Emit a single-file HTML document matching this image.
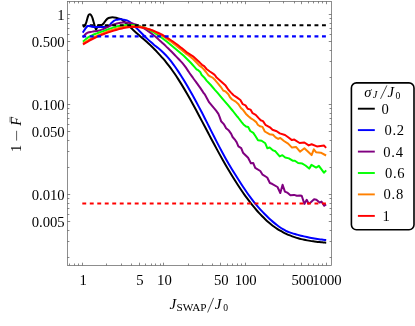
<!DOCTYPE html>
<html><head><meta charset="utf-8"><title>plot</title>
<style>
html,body{margin:0;padding:0;background:#fff;}
body{width:415px;height:326px;overflow:hidden;font-family:"Liberation Serif",serif;}
svg{display:block;will-change:transform;}
text{font-family:"Liberation Serif",serif;fill:#000;}
</style></head><body>
<svg width="415" height="326" viewBox="0 0 415 326">
<rect width="415" height="326" fill="#fff"/>
<g fill="none" stroke-width="2" stroke-linejoin="round" stroke-linecap="butt">
<path d="M83.20 27.20 C83.42 26.97 84.10 26.33 84.50 25.80 C84.90 25.27 85.28 24.63 85.60 24.00 C85.92 23.37 86.13 22.83 86.40 22.00 C86.67 21.17 86.93 19.95 87.20 19.00 C87.47 18.05 87.72 17.02 88.00 16.30 C88.28 15.58 88.58 15.05 88.90 14.70 C89.22 14.35 89.57 14.18 89.90 14.20 C90.23 14.22 90.58 14.45 90.90 14.80 C91.22 15.15 91.52 15.70 91.80 16.30 C92.08 16.90 92.33 17.58 92.60 18.40 C92.87 19.22 93.13 20.27 93.40 21.20 C93.67 22.13 93.95 23.13 94.20 24.00 C94.45 24.87 94.67 25.63 94.90 26.40 C95.13 27.17 95.40 28.07 95.60 28.60 C95.80 29.13 95.90 29.67 96.10 29.60 C96.30 29.53 96.55 28.77 96.80 28.20 C97.05 27.63 97.27 26.68 97.60 26.20 C97.93 25.72 98.33 25.48 98.80 25.30 C99.27 25.12 99.87 25.18 100.40 25.10 C100.93 25.02 101.48 25.07 102.00 24.80 C102.52 24.53 103.02 24.03 103.50 23.50 C103.98 22.97 104.42 22.23 104.90 21.60 C105.38 20.97 105.90 20.23 106.40 19.70 C106.90 19.17 107.38 18.73 107.90 18.40 C108.42 18.07 108.75 17.90 109.50 17.70 C110.25 17.50 111.30 17.20 112.40 17.20 C113.50 17.20 115.10 17.48 116.10 17.70 C117.10 17.92 117.55 18.25 118.40 18.50 C119.25 18.75 120.23 18.68 121.20 19.22 C122.17 19.75 123.20 20.85 124.20 21.71 C125.20 22.56 126.20 23.46 127.20 24.36 C128.20 25.26 129.20 26.19 130.20 27.12 C131.20 28.04 132.20 28.98 133.20 29.90 C134.20 30.83 135.20 31.75 136.20 32.66 C137.20 33.56 138.20 34.45 139.20 35.34 C140.20 36.22 141.20 37.09 142.20 37.97 C143.20 38.85 144.20 39.72 145.20 40.61 C146.20 41.50 147.20 42.39 148.20 43.30 C149.20 44.22 150.20 45.14 151.20 46.09 C152.20 47.04 153.20 48.01 154.20 49.01 C155.20 50.01 156.20 51.03 157.20 52.08 C158.20 53.13 159.20 54.20 160.20 55.31 C161.20 56.41 162.20 57.55 163.20 58.72 C164.20 59.89 165.20 61.09 166.20 62.33 C167.20 63.57 168.20 64.84 169.20 66.16 C170.20 67.47 171.20 68.82 172.20 70.22 C173.20 71.61 174.20 73.05 175.20 74.53 C176.20 76.01 177.20 77.53 178.20 79.09 C179.20 80.65 180.20 82.25 181.20 83.88 C182.20 85.51 183.20 87.18 184.20 88.87 C185.20 90.56 186.20 92.29 187.20 94.03 C188.20 95.78 189.20 97.56 190.20 99.35 C191.20 101.14 192.20 102.96 193.20 104.79 C194.20 106.62 195.20 108.47 196.20 110.33 C197.20 112.19 198.20 114.07 199.20 115.95 C200.20 117.84 201.20 119.73 202.20 121.63 C203.20 123.52 204.20 125.42 205.20 127.32 C206.20 129.23 207.20 131.13 208.20 133.03 C209.20 134.92 210.20 136.82 211.20 138.71 C212.20 140.59 213.20 142.47 214.20 144.34 C215.20 146.20 216.20 148.06 217.20 149.90 C218.20 151.74 219.20 153.56 220.20 155.36 C221.20 157.17 222.20 158.95 223.20 160.72 C224.20 162.48 225.20 164.22 226.20 165.95 C227.20 167.67 228.20 169.37 229.20 171.05 C230.20 172.73 231.20 174.38 232.20 176.01 C233.20 177.64 234.20 179.25 235.20 180.83 C236.20 182.41 237.20 183.96 238.20 185.49 C239.20 187.02 240.20 188.52 241.20 189.99 C242.20 191.46 243.20 192.90 244.20 194.32 C245.20 195.73 246.20 197.11 247.20 198.46 C248.20 199.81 249.20 201.13 250.20 202.42 C251.20 203.70 252.20 204.96 253.20 206.18 C254.20 207.40 255.20 208.59 256.20 209.75 C257.20 210.90 258.20 212.02 259.20 213.11 C260.20 214.20 261.20 215.25 262.20 216.27 C263.20 217.28 264.20 218.27 265.20 219.21 C266.20 220.16 267.20 221.07 268.20 221.94 C269.20 222.81 270.20 223.65 271.20 224.45 C272.20 225.24 273.20 226.00 274.20 226.73 C275.20 227.46 276.20 228.14 277.20 228.80 C278.20 229.46 279.20 230.08 280.20 230.67 C281.20 231.26 282.20 231.82 283.20 232.35 C284.20 232.88 285.20 233.37 286.20 233.85 C287.20 234.32 288.20 234.76 289.20 235.18 C290.20 235.60 291.20 235.99 292.20 236.36 C293.20 236.73 294.20 237.08 295.20 237.40 C296.20 237.73 297.20 238.03 298.20 238.31 C299.20 238.59 300.20 238.85 301.20 239.10 C302.20 239.35 303.20 239.57 304.20 239.78 C305.20 240.00 306.20 240.19 307.20 240.38 C308.20 240.56 309.20 240.73 310.20 240.88 C311.20 241.04 312.20 241.18 313.20 241.32 C314.20 241.46 315.20 241.58 316.20 241.70 C317.20 241.82 318.20 241.93 319.20 242.03 C320.20 242.14 321.20 242.23 322.20 242.33 C323.20 242.42 324.53 242.54 325.20 242.60 C325.87 242.66 326.03 242.68 326.20 242.69" stroke="#000"/><path d="M82.70 32.60 C82.88 32.33 83.38 31.62 83.80 31.00 C84.22 30.38 84.77 29.55 85.20 28.90 C85.63 28.25 86.03 27.57 86.40 27.10 C86.77 26.63 87.03 26.30 87.40 26.10 C87.77 25.90 88.00 25.88 88.60 25.90 C89.20 25.92 90.03 26.03 91.00 26.20 C91.97 26.37 92.90 26.77 94.40 26.90 C95.90 27.03 98.40 26.98 100.00 27.00 C101.60 27.02 102.92 27.03 104.00 27.00 C105.08 26.97 105.83 26.90 106.50 26.80 C107.17 26.70 107.55 26.60 108.00 26.40 C108.45 26.20 108.80 25.95 109.20 25.60 C109.60 25.25 110.02 24.73 110.40 24.30 C110.78 23.87 111.10 23.42 111.50 23.00 C111.90 22.58 112.35 22.18 112.80 21.80 C113.25 21.42 113.65 21.02 114.20 20.70 C114.75 20.38 115.40 20.12 116.10 19.90 C116.80 19.68 117.55 19.50 118.40 19.40 C119.25 19.30 120.28 19.23 121.20 19.30 C122.12 19.37 122.95 19.62 123.90 19.80 C124.85 19.98 125.90 20.00 126.90 20.37 C127.90 20.74 128.90 21.33 129.90 22.02 C130.90 22.71 131.90 23.59 132.90 24.50 C133.90 25.40 134.90 26.43 135.90 27.43 C136.90 28.43 137.90 29.48 138.90 30.49 C139.90 31.51 140.90 32.52 141.90 33.52 C142.90 34.52 143.90 35.52 144.90 36.49 C145.90 37.47 146.90 38.43 147.90 39.37 C148.90 40.30 149.90 41.22 150.90 42.11 C151.90 43.00 152.90 43.86 153.90 44.69 C154.90 45.53 155.90 46.31 156.90 47.12 C157.90 47.93 158.90 48.71 159.90 49.56 C160.90 50.40 161.90 51.25 162.90 52.19 C163.90 53.13 164.90 54.13 165.90 55.20 C166.90 56.27 167.90 57.41 168.90 58.61 C169.90 59.81 170.90 61.08 171.90 62.40 C172.90 63.72 173.90 65.10 174.90 66.51 C175.90 67.93 176.90 69.40 177.90 70.90 C178.90 72.40 179.90 73.95 180.90 75.52 C181.90 77.09 182.90 78.70 183.90 80.33 C184.90 81.97 185.90 83.63 186.90 85.33 C187.90 87.02 188.90 88.75 189.90 90.49 C190.90 92.24 191.90 94.02 192.90 95.82 C193.90 97.61 194.90 99.44 195.90 101.28 C196.90 103.12 197.90 104.98 198.90 106.87 C199.90 108.75 200.90 110.65 201.90 112.58 C202.90 114.50 203.90 116.46 204.90 118.43 C205.90 120.39 206.90 122.40 207.90 124.38 C208.90 126.36 209.90 128.36 210.90 130.33 C211.90 132.31 212.90 134.29 213.90 136.25 C214.90 138.21 215.90 140.17 216.90 142.11 C217.90 144.05 218.90 145.98 219.90 147.89 C220.90 149.80 221.90 151.71 222.90 153.57 C223.90 155.42 224.90 157.27 225.90 159.05 C226.90 160.83 227.90 162.56 228.90 164.25 C229.90 165.95 230.90 167.58 231.90 169.21 C232.90 170.83 233.90 172.42 234.90 174.01 C235.90 175.60 236.90 177.19 237.90 178.76 C238.90 180.34 239.90 181.92 240.90 183.47 C241.90 185.02 242.90 186.56 243.90 188.06 C244.90 189.56 245.90 191.03 246.90 192.46 C247.90 193.88 248.90 195.27 249.90 196.62 C250.90 197.97 251.90 199.28 252.90 200.56 C253.90 201.84 254.90 203.08 255.90 204.28 C256.90 205.49 257.90 206.66 258.90 207.80 C259.90 208.94 260.90 210.05 261.90 211.12 C262.90 212.20 263.90 213.24 264.90 214.26 C265.90 215.27 266.90 216.26 267.90 217.22 C268.90 218.18 269.90 219.11 270.90 220.01 C271.90 220.92 272.90 221.80 273.90 222.64 C274.90 223.49 275.90 224.31 276.90 225.08 C277.90 225.85 278.90 226.59 279.90 227.27 C280.90 227.96 281.90 228.60 282.90 229.19 C283.90 229.77 284.90 230.30 285.90 230.78 C286.90 231.27 287.90 231.69 288.90 232.09 C289.90 232.48 290.90 232.83 291.90 233.16 C292.90 233.49 293.90 233.79 294.90 234.08 C295.90 234.36 296.90 234.63 297.90 234.89 C298.90 235.15 299.90 235.41 300.90 235.66 C301.90 235.91 302.90 236.15 303.90 236.38 C304.90 236.61 305.90 236.84 306.90 237.06 C307.90 237.27 308.90 237.48 309.90 237.68 C310.90 237.88 311.90 238.07 312.90 238.25 C313.90 238.43 314.90 238.60 315.90 238.76 C316.90 238.92 317.90 239.07 318.90 239.21 C319.90 239.35 320.90 239.47 321.90 239.59 C322.90 239.70 324.18 239.83 324.90 239.90 C325.62 239.97 325.98 239.99 326.20 240.01" stroke="#0000ff"/><path d="M83.00 37.40 C83.17 37.15 83.63 36.40 84.00 35.90 C84.37 35.40 84.78 34.83 85.20 34.40 C85.62 33.97 86.02 33.62 86.50 33.30 C86.98 32.98 87.42 32.72 88.10 32.49 C88.78 32.26 89.77 32.07 90.60 31.91 C91.43 31.75 92.27 31.65 93.10 31.53 C93.93 31.41 94.77 31.32 95.60 31.20 C96.43 31.07 97.27 30.96 98.10 30.78 C98.93 30.60 99.77 30.41 100.60 30.14 C101.43 29.88 102.27 29.54 103.10 29.18 C103.93 28.82 104.77 28.39 105.60 27.99 C106.43 27.58 107.27 27.15 108.10 26.76 C108.93 26.37 109.77 25.99 110.60 25.65 C111.43 25.30 112.27 24.98 113.10 24.68 C113.93 24.39 114.77 24.12 115.60 23.89 C116.43 23.65 117.27 23.44 118.10 23.26 C118.93 23.08 119.77 22.93 120.60 22.82 C121.43 22.70 122.27 22.62 123.10 22.57 C123.93 22.53 124.77 22.51 125.60 22.53 C126.43 22.56 127.27 22.62 128.10 22.71 C128.93 22.81 129.77 22.94 130.60 23.10 C131.43 23.27 132.27 23.46 133.10 23.70 C133.93 23.93 134.77 24.19 135.60 24.48 C136.43 24.78 137.27 25.10 138.10 25.46 C138.93 25.81 139.77 26.20 140.60 26.61 C141.43 27.03 142.27 27.47 143.10 27.94 C143.93 28.41 144.77 28.90 145.60 29.42 C146.43 29.94 147.27 30.49 148.10 31.06 C148.93 31.63 149.77 32.23 150.60 32.84 C151.43 33.46 152.27 34.10 153.10 34.76 C153.93 35.42 154.77 36.11 155.60 36.81 C156.43 37.51 157.27 38.24 158.10 38.97 C158.93 39.71 159.77 40.47 160.60 41.23 C161.43 41.99 162.27 42.77 163.10 43.55 C163.93 44.32 164.77 45.10 165.60 45.89 C166.43 46.68 167.27 47.48 168.10 48.29 C168.93 49.10 169.77 49.92 170.60 50.75 C171.43 51.58 172.27 52.43 173.10 53.29 C173.93 54.14 174.77 55.01 175.60 55.88 C176.43 56.75 177.27 57.63 178.10 58.51 C178.93 59.38 179.77 60.24 180.60 61.14 C181.43 62.04 182.27 62.92 183.10 63.91 C183.93 64.90 184.77 65.94 185.60 67.09 C186.43 68.24 187.27 69.58 188.10 70.82 C188.93 72.06 189.77 73.33 190.60 74.54 C191.43 75.74 192.27 76.88 193.10 78.03 C193.93 79.17 194.77 80.28 195.60 81.40 C196.43 82.53 197.27 83.64 198.10 84.80 C198.93 85.96 199.77 87.12 200.60 88.35 C201.43 89.58 202.60 91.42 203.10 92.19 C203.60 92.97 203.52 92.87 203.60 93.01 L204.60 94.10 L206.90 98.30 L209.20 102.40 L211.50 105.20 L213.80 107.90 L216.10 110.70 L218.40 113.90 L219.70 117.20 L221.10 121.20 L223.80 124.10 L226.10 128.30 L228.90 130.60 L231.20 133.80 L232.60 137.00 L235.30 140.20 L236.60 142.10 L238.40 146.30 L241.20 148.10 L243.00 152.70 L248.10 157.80 L250.90 163.30 L253.20 162.90 L255.20 167.80 L260.30 171.00 L262.60 174.70 L267.20 177.50 L269.90 183.00 L272.00 183.80 L277.50 187.00 L280.30 193.00 L282.60 184.70 L284.90 191.60 L287.20 192.60 L290.40 195.30 L294.10 194.90 L296.80 195.80 L300.10 195.60 L301.70 195.70 L304.40 203.90 L306.70 199.80 L308.60 203.50 L310.00 203.00 L314.10 199.30 L316.40 199.80 L319.60 202.60 L321.50 201.60 L324.20 205.80 L326.10 204.40" stroke="#800080"/><path d="M83.00 41.70 C83.50 41.25 85.00 39.82 86.00 39.03 C87.00 38.24 88.00 37.56 89.00 36.95 C90.00 36.33 91.00 35.81 92.00 35.33 C93.00 34.84 94.00 34.44 95.00 34.04 C96.00 33.64 97.00 33.29 98.00 32.94 C99.00 32.58 100.00 32.25 101.00 31.90 C102.00 31.54 103.00 31.18 104.00 30.82 C105.00 30.45 106.00 30.08 107.00 29.71 C108.00 29.35 109.00 28.99 110.00 28.64 C111.00 28.30 112.00 27.96 113.00 27.65 C114.00 27.34 115.00 27.05 116.00 26.79 C117.00 26.53 118.00 26.29 119.00 26.08 C120.00 25.88 121.00 25.69 122.00 25.54 C123.00 25.39 124.00 25.27 125.00 25.18 C126.00 25.09 127.00 25.02 128.00 25.00 C129.00 24.97 130.00 24.97 131.00 25.01 C132.00 25.05 133.00 25.13 134.00 25.24 C135.00 25.35 136.00 25.49 137.00 25.68 C138.00 25.86 139.00 26.08 140.00 26.35 C141.00 26.61 142.00 26.91 143.00 27.25 C144.00 27.60 145.00 27.98 146.00 28.41 C147.00 28.83 148.00 29.30 149.00 29.79 C150.00 30.29 151.00 30.83 152.00 31.39 C153.00 31.96 154.00 32.56 155.00 33.18 C156.00 33.81 157.00 34.46 158.00 35.14 C159.00 35.81 160.00 36.52 161.00 37.24 C162.00 37.96 163.00 38.71 164.00 39.47 C165.00 40.22 166.00 41.00 167.00 41.79 C168.00 42.58 169.00 43.39 170.00 44.20 C171.00 45.01 172.00 45.83 173.00 46.66 C174.00 47.49 175.00 48.32 176.00 49.16 C177.00 50.00 178.00 50.84 179.00 51.70 C180.00 52.56 181.00 53.42 182.00 54.31 C183.00 55.21 184.00 56.11 185.00 57.05 C186.00 57.98 187.00 58.94 188.00 59.93 C189.00 60.92 190.00 61.94 191.00 63.00 C192.00 64.06 193.03 65.19 194.00 66.30 C194.97 67.40 196.33 69.06 196.80 69.61 L197.60 69.80 L200.20 72.00 L201.70 75.10 L204.20 77.40 L206.60 80.60 L210.80 85.00 L215.10 90.10 L217.40 92.60 L222.60 98.80 L227.60 104.70 L232.90 111.00 L236.50 115.60 L238.10 117.50 L241.80 122.30 L243.50 124.40 L246.00 126.50 L248.20 127.00 L250.30 131.00 L253.30 132.90 L255.40 136.00 L258.00 140.20 L261.60 140.70 L265.30 143.30 L267.40 148.30 L269.70 147.50 L273.10 150.40 L275.40 151.30 L279.70 156.40 L282.40 155.20 L285.20 157.50 L288.90 158.40 L292.60 160.70 L294.90 160.70 L298.10 163.00 L302.30 163.60 L305.50 165.50 L309.20 168.60 L311.50 164.90 L316.10 167.60 L318.90 165.80 L323.90 172.70 L326.20 170.40" stroke="#00ff00"/><path d="M83.00 43.37 C83.50 43.06 85.00 42.11 86.00 41.51 C87.00 40.92 88.00 40.34 89.00 39.79 C90.00 39.24 91.00 38.71 92.00 38.20 C93.00 37.68 94.00 37.19 95.00 36.72 C96.00 36.24 97.00 35.78 98.00 35.34 C99.00 34.90 100.00 34.47 101.00 34.06 C102.00 33.64 103.00 33.25 104.00 32.86 C105.00 32.47 106.00 32.10 107.00 31.73 C108.00 31.36 109.00 31.01 110.00 30.66 C111.00 30.31 112.00 29.98 113.00 29.65 C114.00 29.33 115.00 29.02 116.00 28.72 C117.00 28.43 118.00 28.15 119.00 27.89 C120.00 27.64 121.00 27.40 122.00 27.18 C123.00 26.97 124.00 26.78 125.00 26.62 C126.00 26.46 127.00 26.32 128.00 26.21 C129.00 26.11 130.00 26.03 131.00 26.00 C132.00 25.96 133.00 25.95 134.00 25.98 C135.00 26.01 136.00 26.08 137.00 26.19 C138.00 26.30 139.00 26.45 140.00 26.63 C141.00 26.81 142.00 27.03 143.00 27.28 C144.00 27.54 145.00 27.83 146.00 28.14 C147.00 28.46 148.00 28.82 149.00 29.20 C150.00 29.58 151.00 29.99 152.00 30.43 C153.00 30.87 154.00 31.34 155.00 31.84 C156.00 32.33 157.00 32.86 158.00 33.40 C159.00 33.95 160.00 34.52 161.00 35.12 C162.00 35.71 163.00 36.33 164.00 36.97 C165.00 37.61 166.00 38.27 167.00 38.95 C168.00 39.62 169.00 40.32 170.00 41.04 C171.00 41.75 172.00 42.48 173.00 43.23 C174.00 43.98 175.00 44.74 176.00 45.51 C177.00 46.29 178.00 47.08 179.00 47.88 C180.00 48.68 181.00 49.49 182.00 50.31 C183.00 51.13 184.33 52.25 185.00 52.80 C185.67 53.36 185.83 53.50 186.00 53.64 L188.40 55.30 L193.30 59.20 L197.00 63.00 L199.40 65.70 L201.90 67.40 L204.00 69.60 L206.00 72.00 L208.50 75.40 L210.50 76.70 L212.60 77.60 L215.30 80.30 L218.30 83.80 L220.70 86.80 L223.20 90.50 L225.80 91.70 L228.40 94.30 L230.00 97.30 L232.10 99.50 L235.70 101.60 L238.50 104.30 L240.90 108.00 L243.20 110.10 L245.80 113.70 L248.40 116.30 L251.00 118.40 L253.60 120.00 L256.20 122.10 L257.80 124.70 L259.90 126.20 L262.50 126.90 L264.80 131.50 L269.40 134.20 L273.00 134.80 L275.60 137.40 L278.20 138.90 L280.30 137.90 L284.00 141.00 L288.10 143.60 L292.00 147.60 L296.00 146.90 L300.00 151.70 L304.40 148.30 L311.60 155.10 L313.80 149.30 L316.00 152.20 L320.80 152.70 L326.10 155.50" stroke="#ff8000"/><path d="M83.00 44.51 C83.50 44.20 85.00 43.21 86.00 42.60 C87.00 41.99 88.00 41.41 89.00 40.85 C90.00 40.29 91.00 39.76 92.00 39.25 C93.00 38.74 94.00 38.25 95.00 37.77 C96.00 37.30 97.00 36.85 98.00 36.41 C99.00 35.98 100.00 35.56 101.00 35.16 C102.00 34.75 103.00 34.36 104.00 33.99 C105.00 33.61 106.00 33.24 107.00 32.89 C108.00 32.53 109.00 32.19 110.00 31.85 C111.00 31.51 112.00 31.18 113.00 30.86 C114.00 30.55 115.00 30.24 116.00 29.95 C117.00 29.66 118.00 29.38 119.00 29.12 C120.00 28.86 121.00 28.62 122.00 28.40 C123.00 28.18 124.00 27.98 125.00 27.80 C126.00 27.63 127.00 27.47 128.00 27.35 C129.00 27.22 130.00 27.12 131.00 27.05 C132.00 26.98 133.00 26.94 134.00 26.93 C135.00 26.93 136.00 26.95 137.00 27.01 C138.00 27.07 139.00 27.16 140.00 27.28 C141.00 27.41 142.00 27.57 143.00 27.75 C144.00 27.94 145.00 28.16 146.00 28.41 C147.00 28.65 148.00 28.93 149.00 29.24 C150.00 29.54 151.00 29.88 152.00 30.24 C153.00 30.60 154.00 31.00 155.00 31.41 C156.00 31.83 157.00 32.27 158.00 32.74 C159.00 33.21 160.00 33.70 161.00 34.22 C162.00 34.74 163.00 35.28 164.00 35.85 C165.00 36.42 166.00 37.01 167.00 37.62 C168.00 38.23 169.00 38.86 170.00 39.52 C171.00 40.17 172.00 40.85 173.00 41.54 C174.00 42.24 175.00 42.95 176.00 43.69 C177.00 44.42 178.00 45.17 179.00 45.94 C180.00 46.71 181.00 47.50 182.00 48.31 C183.00 49.11 184.07 49.99 185.00 50.77 C185.93 51.55 187.17 52.61 187.60 52.98 L188.40 53.40 L193.00 56.30 L196.50 59.60 L199.80 62.60 L202.00 64.80 L204.20 66.20 L206.50 69.00 L209.50 71.20 L213.40 73.90 L215.00 75.20 L216.60 77.60 L219.40 79.90 L222.50 82.80 L225.60 85.60 L228.40 89.80 L231.00 92.60 L233.60 95.20 L236.80 97.40 L240.40 100.00 L242.80 104.20 L245.50 105.40 L247.70 108.80 L250.50 109.60 L252.60 113.20 L255.70 114.80 L258.90 118.40 L260.70 120.30 L263.00 121.10 L265.40 124.80 L269.90 127.30 L272.50 129.80 L276.70 131.20 L279.80 133.40 L285.00 135.00 L288.20 137.30 L291.90 140.10 L294.30 139.60 L299.60 143.00 L304.40 142.50 L308.70 145.40 L311.60 144.30 L316.90 146.40 L324.10 145.60 L326.10 147.80" stroke="#ff0000"/>
</g>
<g fill="none" stroke-width="2.15" stroke-dasharray="3.9 3.59">
<path d="M82.3 25.25 H326.3" stroke="#000"/>
<path d="M82.3 36.3 H326.3" stroke="#0000ff"/>
<path d="M82.3 203.5 H326.3" stroke="#ff0000"/>
</g>
<clipPath id="cb"><rect x="86.5" y="20" width="15.5" height="9.2"/></clipPath>
<path d="M82.70 32.60 C82.88 32.33 83.38 31.62 83.80 31.00 C84.22 30.38 84.77 29.55 85.20 28.90 C85.63 28.25 86.03 27.57 86.40 27.10 C86.77 26.63 87.03 26.30 87.40 26.10 C87.77 25.90 88.00 25.88 88.60 25.90 C89.20 25.92 90.03 26.03 91.00 26.20 C91.97 26.37 92.90 26.77 94.40 26.90 C95.90 27.03 98.40 26.98 100.00 27.00 C101.60 27.02 102.92 27.03 104.00 27.00 C105.08 26.97 105.83 26.90 106.50 26.80 C107.17 26.70 107.55 26.60 108.00 26.40 C108.45 26.20 108.80 25.95 109.20 25.60 C109.60 25.25 110.02 24.73 110.40 24.30 C110.78 23.87 111.10 23.42 111.50 23.00 C111.90 22.58 112.35 22.18 112.80 21.80 C113.25 21.42 113.65 21.02 114.20 20.70 C114.75 20.38 115.40 20.12 116.10 19.90 C116.80 19.68 117.55 19.50 118.40 19.40 C119.25 19.30 120.28 19.23 121.20 19.30 C122.12 19.37 122.95 19.62 123.90 19.80 C124.85 19.98 125.90 20.00 126.90 20.37 C127.90 20.74 128.90 21.33 129.90 22.02 C130.90 22.71 131.90 23.59 132.90 24.50 C133.90 25.40 134.90 26.43 135.90 27.43 C136.90 28.43 137.90 29.48 138.90 30.49 C139.90 31.51 140.90 32.52 141.90 33.52 C142.90 34.52 143.90 35.52 144.90 36.49 C145.90 37.47 146.90 38.43 147.90 39.37 C148.90 40.30 149.90 41.22 150.90 42.11 C151.90 43.00 152.90 43.86 153.90 44.69 C154.90 45.53 155.90 46.31 156.90 47.12 C157.90 47.93 158.90 48.71 159.90 49.56 C160.90 50.40 161.90 51.25 162.90 52.19 C163.90 53.13 164.90 54.13 165.90 55.20 C166.90 56.27 167.90 57.41 168.90 58.61 C169.90 59.81 170.90 61.08 171.90 62.40 C172.90 63.72 173.90 65.10 174.90 66.51 C175.90 67.93 176.90 69.40 177.90 70.90 C178.90 72.40 179.90 73.95 180.90 75.52 C181.90 77.09 182.90 78.70 183.90 80.33 C184.90 81.97 185.90 83.63 186.90 85.33 C187.90 87.02 188.90 88.75 189.90 90.49 C190.90 92.24 191.90 94.02 192.90 95.82 C193.90 97.61 194.90 99.44 195.90 101.28 C196.90 103.12 197.90 104.98 198.90 106.87 C199.90 108.75 200.90 110.65 201.90 112.58 C202.90 114.50 203.90 116.46 204.90 118.43 C205.90 120.39 206.90 122.40 207.90 124.38 C208.90 126.36 209.90 128.36 210.90 130.33 C211.90 132.31 212.90 134.29 213.90 136.25 C214.90 138.21 215.90 140.17 216.90 142.11 C217.90 144.05 218.90 145.98 219.90 147.89 C220.90 149.80 221.90 151.71 222.90 153.57 C223.90 155.42 224.90 157.27 225.90 159.05 C226.90 160.83 227.90 162.56 228.90 164.25 C229.90 165.95 230.90 167.58 231.90 169.21 C232.90 170.83 233.90 172.42 234.90 174.01 C235.90 175.60 236.90 177.19 237.90 178.76 C238.90 180.34 239.90 181.92 240.90 183.47 C241.90 185.02 242.90 186.56 243.90 188.06 C244.90 189.56 245.90 191.03 246.90 192.46 C247.90 193.88 248.90 195.27 249.90 196.62 C250.90 197.97 251.90 199.28 252.90 200.56 C253.90 201.84 254.90 203.08 255.90 204.28 C256.90 205.49 257.90 206.66 258.90 207.80 C259.90 208.94 260.90 210.05 261.90 211.12 C262.90 212.20 263.90 213.24 264.90 214.26 C265.90 215.27 266.90 216.26 267.90 217.22 C268.90 218.18 269.90 219.11 270.90 220.01 C271.90 220.92 272.90 221.80 273.90 222.64 C274.90 223.49 275.90 224.31 276.90 225.08 C277.90 225.85 278.90 226.59 279.90 227.27 C280.90 227.96 281.90 228.60 282.90 229.19 C283.90 229.77 284.90 230.30 285.90 230.78 C286.90 231.27 287.90 231.69 288.90 232.09 C289.90 232.48 290.90 232.83 291.90 233.16 C292.90 233.49 293.90 233.79 294.90 234.08 C295.90 234.36 296.90 234.63 297.90 234.89 C298.90 235.15 299.90 235.41 300.90 235.66 C301.90 235.91 302.90 236.15 303.90 236.38 C304.90 236.61 305.90 236.84 306.90 237.06 C307.90 237.27 308.90 237.48 309.90 237.68 C310.90 237.88 311.90 238.07 312.90 238.25 C313.90 238.43 314.90 238.60 315.90 238.76 C316.90 238.92 317.90 239.07 318.90 239.21 C319.90 239.35 320.90 239.47 321.90 239.59 C322.90 239.70 324.18 239.83 324.90 239.90 C325.62 239.97 325.98 239.99 326.20 240.01" fill="none" stroke="#0000ff" stroke-width="2" stroke-linejoin="round" clip-path="url(#cb)"/>
<g fill="none" stroke="#686868" stroke-width="0.75">
<rect x="67.5" y="1.5" width="263.95" height="263.9"/>
<path d="M69.50 265.40 L69.50 263.50 M69.50 1.50 L69.50 3.40 M74.50 265.40 L74.50 263.50 M74.50 1.50 L74.50 3.40 M78.50 265.40 L78.50 263.50 M78.50 1.50 L78.50 3.40 M82.50 265.40 L82.50 262.70 M82.50 1.50 L82.50 4.20 M106.50 265.40 L106.50 263.50 M106.50 1.50 L106.50 3.40 M121.50 265.40 L121.50 263.50 M121.50 1.50 L121.50 3.40 M131.50 265.40 L131.50 263.50 M131.50 1.50 L131.50 3.40 M139.50 265.40 L139.50 262.70 M139.50 1.50 L139.50 4.20 M145.50 265.40 L145.50 263.50 M145.50 1.50 L145.50 3.40 M151.50 265.40 L151.50 263.50 M151.50 1.50 L151.50 3.40 M155.50 265.40 L155.50 263.50 M155.50 1.50 L155.50 3.40 M160.50 265.40 L160.50 263.50 M160.50 1.50 L160.50 3.40 M163.50 265.40 L163.50 262.70 M163.50 1.50 L163.50 4.20 M188.50 265.40 L188.50 263.50 M188.50 1.50 L188.50 3.40 M202.50 265.40 L202.50 263.50 M202.50 1.50 L202.50 3.40 M212.50 265.40 L212.50 263.50 M212.50 1.50 L212.50 3.40 M220.50 265.40 L220.50 262.70 M220.50 1.50 L220.50 4.20 M227.50 265.40 L227.50 263.50 M227.50 1.50 L227.50 3.40 M232.50 265.40 L232.50 263.50 M232.50 1.50 L232.50 3.40 M237.50 265.40 L237.50 263.50 M237.50 1.50 L237.50 3.40 M241.50 265.40 L241.50 263.50 M241.50 1.50 L241.50 3.40 M245.50 265.40 L245.50 262.70 M245.50 1.50 L245.50 4.20 M269.50 265.40 L269.50 263.50 M269.50 1.50 L269.50 3.40 M283.50 265.40 L283.50 263.50 M283.50 1.50 L283.50 3.40 M294.50 265.40 L294.50 263.50 M294.50 1.50 L294.50 3.40 M301.50 265.40 L301.50 262.70 M301.50 1.50 L301.50 4.20 M308.50 265.40 L308.50 263.50 M308.50 1.50 L308.50 3.40 M313.50 265.40 L313.50 263.50 M313.50 1.50 L313.50 3.40 M318.50 265.40 L318.50 263.50 M318.50 1.50 L318.50 3.40 M322.50 265.40 L322.50 263.50 M322.50 1.50 L322.50 3.40 M326.50 265.40 L326.50 262.70 M326.50 1.50 L326.50 4.20 M67.50 257.50 L69.40 257.50 M331.45 257.50 L329.55 257.50 M67.50 241.50 L69.40 241.50 M331.45 241.50 L329.55 241.50 M67.50 230.50 L69.40 230.50 M331.45 230.50 L329.55 230.50 M67.50 221.50 L70.20 221.50 M331.45 221.50 L328.75 221.50 M67.50 214.50 L69.40 214.50 M331.45 214.50 L329.55 214.50 M67.50 208.50 L69.40 208.50 M331.45 208.50 L329.55 208.50 M67.50 203.50 L69.40 203.50 M331.45 203.50 L329.55 203.50 M67.50 198.50 L69.40 198.50 M331.45 198.50 L329.55 198.50 M67.50 194.50 L70.20 194.50 M331.45 194.50 L328.75 194.50 M67.50 167.50 L69.40 167.50 M331.45 167.50 L329.55 167.50 M67.50 151.50 L69.40 151.50 M331.45 151.50 L329.55 151.50 M67.50 140.50 L69.40 140.50 M331.45 140.50 L329.55 140.50 M67.50 131.50 L70.20 131.50 M331.45 131.50 L328.75 131.50 M67.50 124.50 L69.40 124.50 M331.45 124.50 L329.55 124.50 M67.50 118.50 L69.40 118.50 M331.45 118.50 L329.55 118.50 M67.50 113.50 L69.40 113.50 M331.45 113.50 L329.55 113.50 M67.50 108.50 L69.40 108.50 M331.45 108.50 L329.55 108.50 M67.50 104.50 L70.20 104.50 M331.45 104.50 L328.75 104.50 M67.50 77.50 L69.40 77.50 M331.45 77.50 L329.55 77.50 M67.50 61.50 L69.40 61.50 M331.45 61.50 L329.55 61.50 M67.50 50.50 L69.40 50.50 M331.45 50.50 L329.55 50.50 M67.50 41.50 L70.20 41.50 M331.45 41.50 L328.75 41.50 M67.50 34.50 L69.40 34.50 M331.45 34.50 L329.55 34.50 M67.50 28.50 L69.40 28.50 M331.45 28.50 L329.55 28.50 M67.50 23.50 L69.40 23.50 M331.45 23.50 L329.55 23.50 M67.50 18.50 L69.40 18.50 M331.45 18.50 L329.55 18.50 M67.50 14.50 L70.20 14.50 M331.45 14.50 L328.75 14.50" stroke="#555" stroke-width="0.7"/>
</g>
<g font-size="14.7"><text x="83.10" y="285.1" text-anchor="middle">1</text><text x="139.93" y="285.1" text-anchor="middle">5</text><text x="164.40" y="285.1" text-anchor="middle">10</text><text x="221.23" y="285.1" text-anchor="middle">50</text><text x="245.70" y="285.1" text-anchor="middle">100</text><text x="302.53" y="285.1" text-anchor="middle">500</text><text x="327.00" y="285.1" text-anchor="middle">1000</text><text x="64.7" y="20.10" text-anchor="end">1</text><text x="64.7" y="47.19" text-anchor="end">0.500</text><text x="64.7" y="110.10" text-anchor="end">0.100</text><text x="64.7" y="137.19" text-anchor="end">0.050</text><text x="64.7" y="200.10" text-anchor="end">0.010</text><text x="64.7" y="227.19" text-anchor="end">0.005</text></g>
<!-- axis labels -->
<g transform="translate(21 133.6) rotate(-90)" font-size="14.5" fill="#222">
<text x="-18.5" y="0">1</text>
<text x="7.8" y="0" font-style="italic">F</text>
<path d="M11.2 -10.9 H16.8" stroke="#222" stroke-width="0.7" fill="none"/>
</g>
<path d="M16.6 130.8 V140.6" stroke="#333" stroke-width="0.8" fill="none"/>
<g font-size="15">
<text x="169.6" y="309.2" font-style="italic">J</text>
<text x="176.6" y="311.1" font-size="9.8" fill="#222" textLength="30" lengthAdjust="spacingAndGlyphs">SWAP</text>
<path d="M207.6 312.5 L213.6 297.9" stroke="#222" stroke-width="0.8" fill="none"/>
<text x="214.8" y="309.2" font-style="italic">J</text>
<text x="223.2" y="311.0" font-size="9.6">0</text>
</g>
<!-- legend -->
<rect x="351.4" y="82.9" width="62.6" height="146.8" rx="5" ry="5" fill="#fff" stroke="#000" stroke-width="1.6"/>
<g font-size="14.6">
<text x="364.2" y="96.9" font-style="italic">σ</text>
<text x="372.8" y="98.4" font-size="10.4" font-style="italic">J</text>
<path d="M380.5 98.9 L386.9 85.4" stroke="#222" stroke-width="0.8" fill="none"/>
<text x="387.6" y="96.9" font-style="italic">J</text>
<text x="395.4" y="99.0" font-size="9.6">0</text>
<path d="M357.9 108.7 H374.8" stroke="#000" stroke-width="1.9"/><text x="381.6" y="113.7" letter-spacing="0.7">0</text><path d="M357.9 130.1 H374.8" stroke="#0000ff" stroke-width="1.9"/><text x="384.4" y="135.1" letter-spacing="0.7">0.2</text><path d="M357.9 151.6 H374.8" stroke="#800080" stroke-width="1.9"/><text x="383.3" y="156.6" letter-spacing="0.7">0.4</text><path d="M357.9 173.0 H374.8" stroke="#00ff00" stroke-width="1.9"/><text x="384.9" y="178.0" letter-spacing="0.7">0.6</text><path d="M357.9 194.4 H374.8" stroke="#ff8000" stroke-width="1.9"/><text x="383.6" y="199.4" letter-spacing="0.7">0.8</text><path d="M357.9 215.9 H374.8" stroke="#ff0000" stroke-width="1.9"/><text x="382.4" y="220.9" letter-spacing="0.7">1</text>
</g>
</svg>
</body></html>
